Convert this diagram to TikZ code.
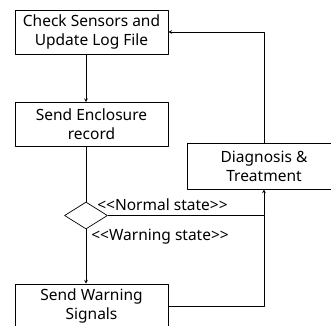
\documentclass[tikz,border=0pt]{standalone}
\usepackage{fontspec}
\setmainfont{Noto Sans}
\usetikzlibrary{shapes.geometric}
\begin{document}
\begin{tikzpicture}[x=1pt, y=-1pt, font=\fontsize{15.5}{19}\selectfont, line join=round, >=stealth, line width=0.7pt,
	box/.style={draw, minimum width=153pt, minimum height=44pt, align=center, inner sep=0pt},
	decision/.style={draw, diamond, minimum width=43pt, minimum height=27pt, inner sep=0pt},
	lbl/.style={inner sep=0pt, anchor=west}]
	\useasboundingbox (0,0) rectangle (331,325);
	\clip (0,0) rectangle (331,325);
	\node[box] (check) at (91.5,32) {Check Sensors and\\Update Log File};
	\node[box] (enclose) at (91.5,124.5) {Send Enclosure\\record};
	\node[decision] (decide) at (86,215.5) {};
	\node[box] (warn) at (91.5,306) {Send Warning\\Signals};
	\node[box, minimum height=46pt] (diag) at (264,166) {Diagnosis \&\\Treatment};
	\node[lbl] (normal) at (97,205) {<\kern0pt<Normal state>\kern0pt>};
	\node[lbl] (warning) at (91,237) {<\kern0pt<Warning state>\kern0pt>};
	\coordinate (join) at (decide.east -| diag.south);
	\draw[->] (check.south -| decide.north) -- (enclose.north -| decide.north);
	\draw (enclose.south -| decide.north) -- (decide.north);
	\draw[->] (decide.south) -- (warn.north -| decide.south);
	\draw[->] (decide.east) -- (join) -- (diag.south);
	\draw (warn.east) -- (warn.east -| join) -- (join);
	\draw[->] (diag.north) -- (diag.north |- check.east) -- (check.east);
\end{tikzpicture}
\end{document}
